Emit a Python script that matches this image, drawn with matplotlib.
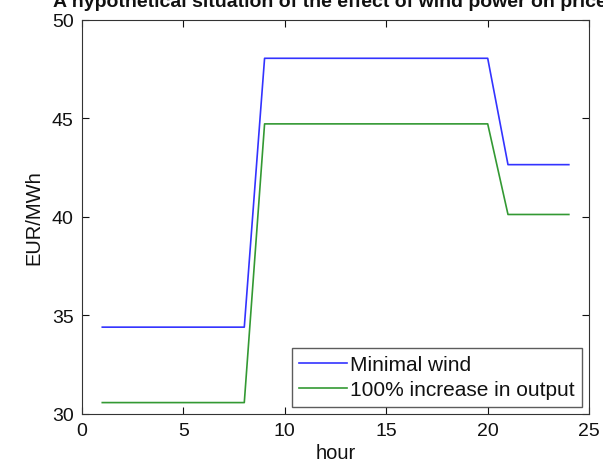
import matplotlib
matplotlib.use("Agg")
import matplotlib.pyplot as plt

plt.rcParams['font.family'] = ['Liberation Sans', 'DejaVu Sans']

hours = list(range(1, 25))
minimal_wind = [34.4]*8 + [48.05]*12 + [42.65]*4
increase_100 = [30.57]*8 + [44.72]*12 + [40.12]*4

fig = plt.figure(figsize=(6.03, 4.64), dpi=100)
ax = fig.add_axes([0.136, 0.106, 0.841, 0.849])
ax.plot(hours, minimal_wind, color='#3333ff', lw=1.2, label='Minimal wind')
ax.plot(hours, increase_100, color='#339933', lw=1.2, label='100% increase in output')
ax.set_xlim(0, 25)
ax.set_ylim(30, 50)
ax.set_xticks([0, 5, 10, 15, 20, 25])
ax.set_yticks([30, 35, 40, 45, 50])
ax.tick_params(direction='in', labelsize=14, length=5, pad=6, top=True, right=True,
               labeltop=False, labelright=False, colors='#111111')
for s in ax.spines.values():
    s.set_color('#333333')
ax.set_xlabel('hour', fontsize=14.5, labelpad=3, color='#111111')
ax.set_ylabel('EUR/MWh', fontsize=14.5, labelpad=6, color='#111111')
ax.set_title('A hypothetical situation of the effect of wind power on prices',
             fontsize=14, fontweight='bold', pad=10, color='#111111')
leg = ax.legend(loc='lower right', fontsize=15, frameon=True, fancybox=False,
                edgecolor='#333333', handlelength=2.3, handletextpad=0.15,
                borderaxespad=0.35, labelspacing=0.3, borderpad=0.35)
leg.get_frame().set_linewidth(1.0)
for t in leg.get_texts():
    t.set_color('#111111')
fig.savefig('out.png', dpi=100)
